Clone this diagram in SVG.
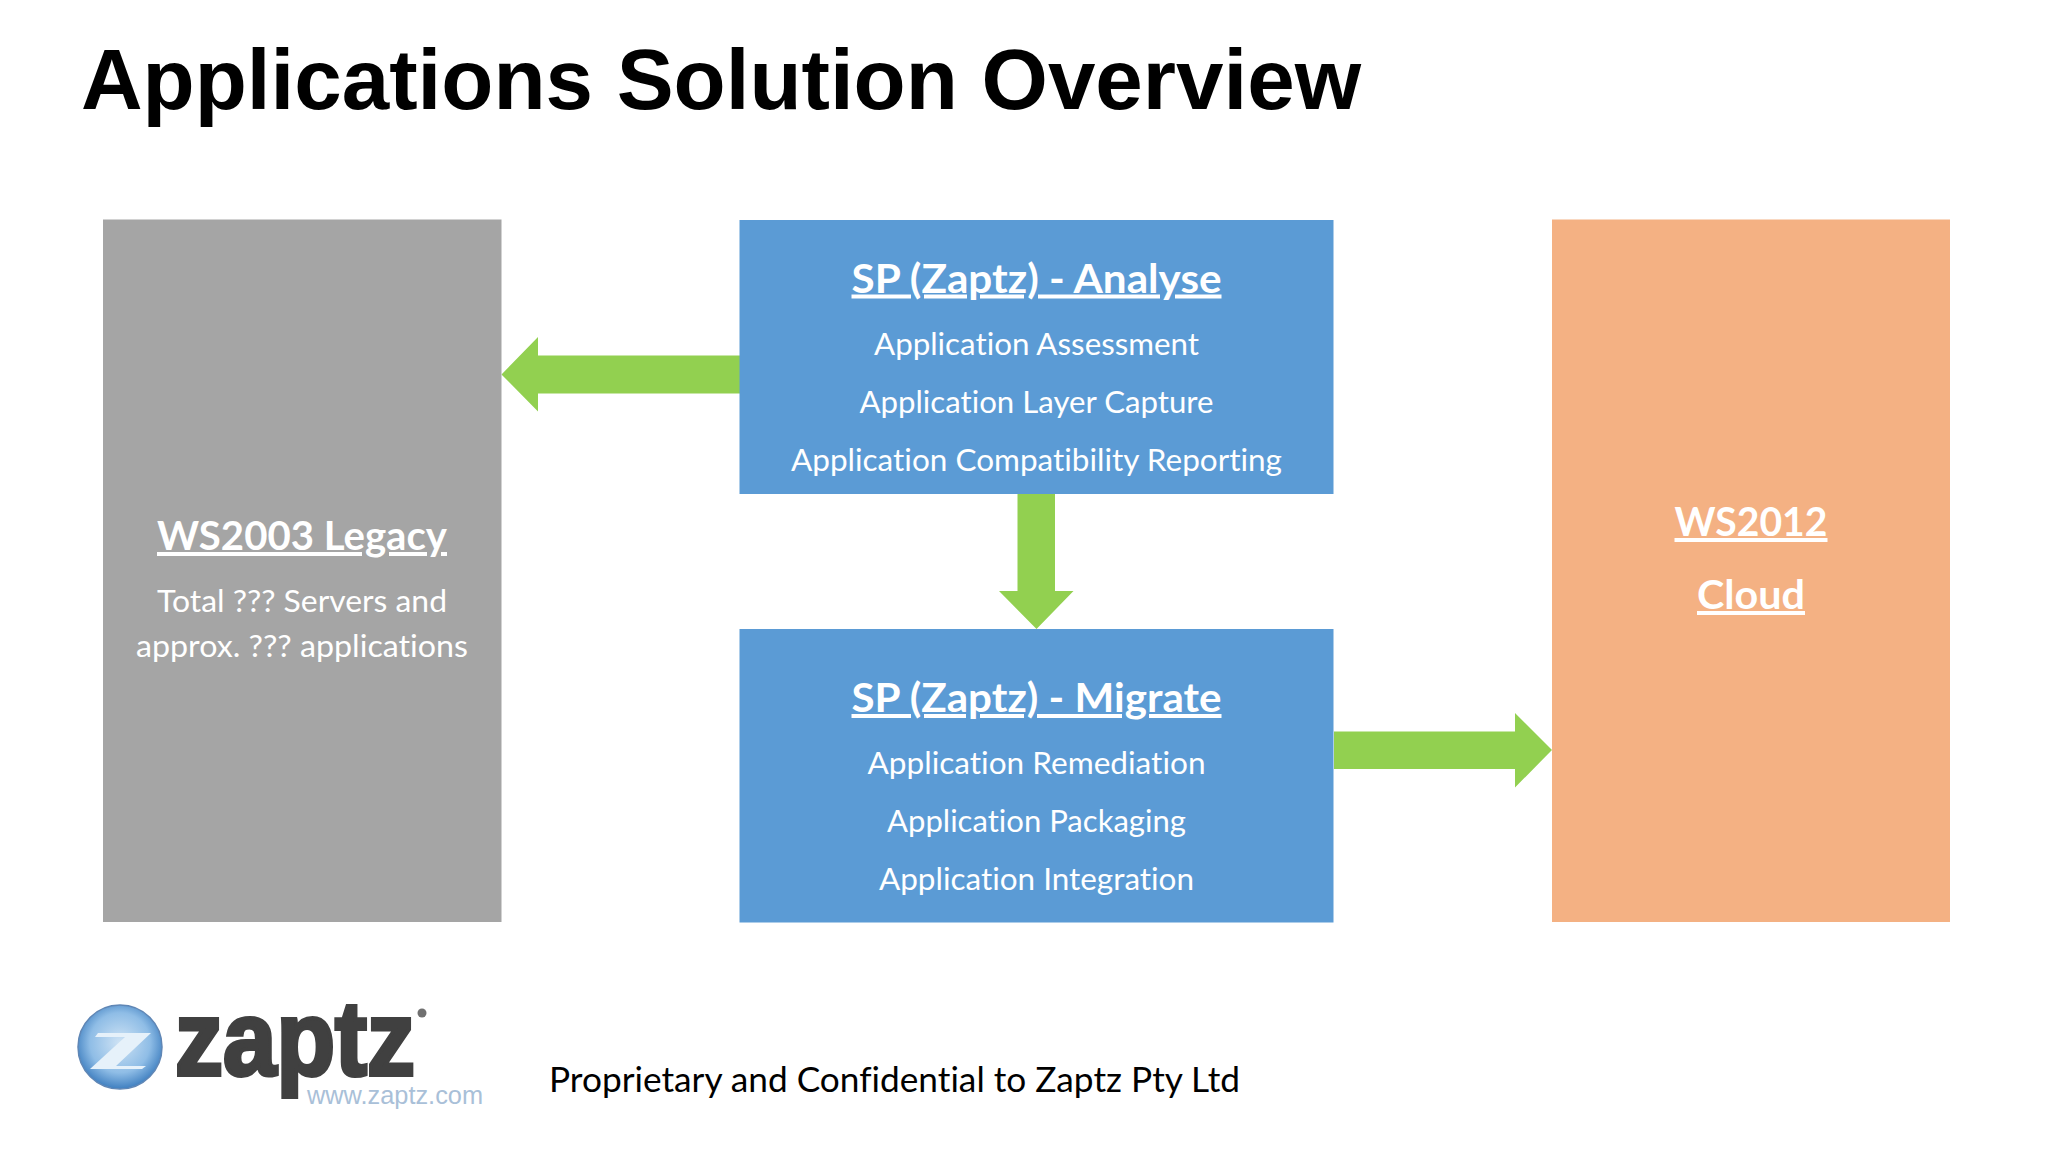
<svg xmlns="http://www.w3.org/2000/svg" width="2048" height="1152" viewBox="0 0 2048 1152">
<defs>
<style>
text{font-family:"Lato","Carlito","Open Sans",sans-serif;font-variant-ligatures:none}
.t{font-family:"Liberation Sans",Arial,sans-serif;font-weight:700;font-size:85px;fill:#000}
.h{font-weight:700;font-size:40px;fill:#fff;text-anchor:middle;text-decoration:underline}
.b{font-size:31px;fill:#fff;text-anchor:middle}
.a{fill:#92d050}
</style>
<radialGradient id="ball" cx="50%" cy="45%" r="55%"><stop offset="0" stop-color="#cfe3f5"/><stop offset=".65" stop-color="#8fbde6"/><stop offset="1" stop-color="#3f7fc0"/></radialGradient>
</defs>
<rect width="2048" height="1152" fill="#fff"/>
<text id="title" class="t" x="81" y="109" textLength="1280" lengthAdjust="spacingAndGlyphs">Applications Solution Overview</text>
<g id="connectors">
<polygon class="a" points="740,355.5 538,355.5 538,337 501.5,374.5 538,411.500 538,393.5 740,393.5"/>
<polygon class="a" points="1017.5,494 1055,494 1055,591 1073.5,591 1036.5,629 999,591 1017.5,591"/>
<polygon class="a" points="1334,731.5 1515,731.5 1515,713 1552,750 1515,787.5 1515,769 1334,769"/>
</g>
<g id="legacy">
<rect x="103" y="219.500" width="398.500" height="702.500" fill="#a5a5a5"/>
<text class="h" x="302" y="550" textLength="290" lengthAdjust="spacingAndGlyphs">WS2003 Legacy</text>
<text class="b" x="302" y="611.500" textLength="290" lengthAdjust="spacingAndGlyphs">Total ??? Servers and</text>
<text class="b" x="302" y="657" textLength="332" lengthAdjust="spacingAndGlyphs">approx. ??? applications</text>
</g>
<g id="analyse">
<rect x="739.500" y="220" width="594" height="274" fill="#5b9bd5"/>
<text class="h" x="1036.500" y="292.500" textLength="370" lengthAdjust="spacingAndGlyphs">SP (Zaptz) - Analyse</text>
<text class="b" x="1036.500" y="354.500" textLength="325" lengthAdjust="spacingAndGlyphs">Application Assessment</text>
<text class="b" x="1036.500" y="412.500" textLength="354" lengthAdjust="spacingAndGlyphs">Application Layer Capture</text>
<text class="b" x="1036.500" y="470.500" textLength="491" lengthAdjust="spacingAndGlyphs">Application Compatibility Reporting</text>
</g>
<g id="migrate">
<rect x="739.500" y="629" width="594" height="293.500" fill="#5b9bd5"/>
<text class="h" x="1036.500" y="712" textLength="370" lengthAdjust="spacingAndGlyphs">SP (Zaptz) - Migrate</text>
<text class="b" x="1036.500" y="773.500" textLength="338" lengthAdjust="spacingAndGlyphs">Application Remediation</text>
<text class="b" x="1036.500" y="831.500" textLength="299" lengthAdjust="spacingAndGlyphs">Application Packaging</text>
<text class="b" x="1036.500" y="889.500" textLength="315" lengthAdjust="spacingAndGlyphs">Application Integration</text>
</g>
<g id="cloud">
<rect x="1552" y="219.500" width="398" height="702.500" fill="#f4b183"/>
<text class="h" x="1751" y="536" textLength="153" lengthAdjust="spacingAndGlyphs">WS2012</text>
<text class="h" x="1751" y="609" textLength="108" lengthAdjust="spacingAndGlyphs">Cloud</text>
</g>
<g id="logo">
<circle cx="120" cy="1047" r="42" fill="url(#ball)" stroke="#5f86b5" stroke-width="1.500"/>
<polygon points="98,1033 151,1033 116,1066 146,1066 142,1069 90,1069 125,1037 95,1037" fill="#e6f1fa"/>
<text x="175" y="1075" textLength="240" lengthAdjust="spacingAndGlyphs" style="font-family:'Liberation Sans',sans-serif;font-weight:700;font-size:105px;fill:#404040;stroke:#404040;stroke-width:4">zaptz</text>
<circle cx="422" cy="1013" r="4.500" fill="#707070"/>
<text x="307" y="1104" textLength="176" lengthAdjust="spacingAndGlyphs" style="font-family:'Liberation Sans',sans-serif;font-size:26px;fill:#a9c0d8">www.zaptz.com</text>
</g>
<text id="footer" x="549" y="1092" textLength="691" lengthAdjust="spacingAndGlyphs" style="font-size:35px;fill:#000">Proprietary and Confidential to Zaptz Pty Ltd</text>
</svg>
